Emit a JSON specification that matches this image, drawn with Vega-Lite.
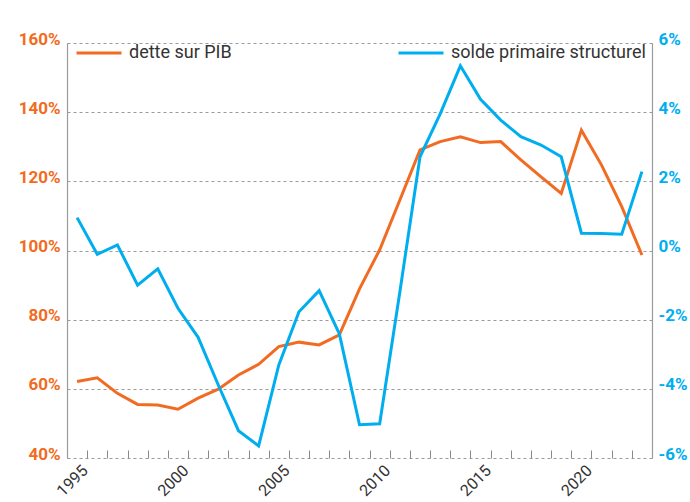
{
  "$schema": "https://vega.github.io/schema/vega-lite/v6.json",
  "width": 585,
  "height": 415,
  "autosize": {"type": "none"},
  "padding": {"left": 67, "top": 43, "right": 38, "bottom": 44},
  "background": "#ffffff",
  "config": {
    "font": "Roboto",
    "view": {"stroke": null},
    "axis": {"grid": false, "domainColor": "#9a9a9a", "domainWidth": 1.2, "tickColor": "#8a8a8a"},
    "legend": {"symbolType": "stroke", "symbolSize": 2025, "symbolStrokeWidth": 3, "labelFont": "Roboto", "labelFontSize": 18, "labelColor": "#333333", "labelOffset": 6, "padding": 0, "title": null, "labelLimit": 400}
  },
  "data": {"values": [
    {"year": 1995, "dette": 62.1, "solde": 0.95},
    {"year": 1996, "dette": 63.2, "solde": -0.11},
    {"year": 1997, "dette": 58.7, "solde": 0.16},
    {"year": 1998, "dette": 55.5, "solde": -1.0},
    {"year": 1999, "dette": 55.3, "solde": -0.53},
    {"year": 2000, "dette": 54.1, "solde": -1.67},
    {"year": 2001, "dette": 57.3, "solde": -2.51},
    {"year": 2002, "dette": 59.9, "solde": -3.89},
    {"year": 2003, "dette": 64.0, "solde": -5.21},
    {"year": 2004, "dette": 67.1, "solde": -5.65},
    {"year": 2005, "dette": 72.2, "solde": -3.31},
    {"year": 2006, "dette": 73.5, "solde": -1.77},
    {"year": 2007, "dette": 72.7, "solde": -1.16},
    {"year": 2008, "dette": 75.6, "solde": -2.41},
    {"year": 2009, "dette": 88.9, "solde": -5.04},
    {"year": 2010, "dette": 100.2, "solde": -5.01},
    {"year": 2011, "dette": 114.6, "solde": -1.2},
    {"year": 2012, "dette": 129.1, "solde": 2.71},
    {"year": 2013, "dette": 131.5, "solde": 3.95},
    {"year": 2014, "dette": 132.9, "solde": 5.34},
    {"year": 2015, "dette": 131.2, "solde": 4.37},
    {"year": 2016, "dette": 131.5, "solde": 3.77},
    {"year": 2017, "dette": 126.2, "solde": 3.29},
    {"year": 2018, "dette": 121.3, "solde": 3.05},
    {"year": 2019, "dette": 116.5, "solde": 2.71},
    {"year": 2020, "dette": 134.8, "solde": 0.5},
    {"year": 2021, "dette": 124.7, "solde": 0.49},
    {"year": 2022, "dette": 112.7, "solde": 0.47},
    {"year": 2023, "dette": 98.7, "solde": 2.28}
  ]},
  "layer": [
    {
      "mark": {"type": "line", "strokeWidth": 3, "strokeJoin": "miter"},
      "encoding": {
        "x": {
          "field": "year", "type": "quantitative",
          "scale": {"domain": [1994.5, 2023.5], "nice": false, "zero": false},
          "axis": {
            "title": null,
            "orient": "bottom",
            "domain": false,
            "ticks": false,
            "values": [1995, 2000, 2005, 2010, 2015, 2020],
            "format": "d",
            "labelPadding": 4,
            "labelOffset": 2,
            "labelAngle": -45,
            "labelAlign": "right",
            "labelBaseline": "top",
            "labelFontSize": 16,
            "labelColor": "#333333",
            "labelFlush": false,
            "labelOverlap": false,
            "labelBound": false
          }
        },
        "y": {
          "field": "dette", "type": "quantitative",
          "scale": {"domain": [40, 160], "nice": false, "zero": false},
          "axis": {
            "title": null, "orient": "left",
            "values": [40, 60, 80, 100, 120, 140, 160],
            "labelExpr": "datum.value + '%'",
            "ticks": false,
            "grid": true, "gridColor": "#9a9a9a", "gridDash": [3, 3], "gridWidth": 1,
            "labelColor": "#F26B22", "labelFontWeight": "bold", "labelFontSize": 17,
            "labelPadding": 7, "labelBaseline": "alphabetic", "labelOffset": 1, "labelFlush": false
          }
        },
        "color": {
          "datum": "dette sur PIB",
          "scale": {"range": ["#F26B22"]},
          "legend": {"orient": "none", "legendX": 8, "legendY": -14}
        }
      }
    },
    {
      "mark": {"type": "line", "strokeWidth": 3, "strokeJoin": "miter"},
      "encoding": {
        "x": {
          "field": "year", "type": "quantitative",
          "axis": {
            "title": null,
            "orient": "top",
            "offset": -415,
            "domain": false,
            "labels": false,
            "ticks": true,
            "tickSize": 8,
            "tickWidth": 1,
            "values": [1995.5,1996.5,1997.5,1998.5,1999.5,2000.5,2001.5,2002.5,2003.5,2004.5,2005.5,2006.5,2007.5,2008.5,2009.5,2010.5,2011.5,2012.5,2013.5,2014.5,2015.5,2016.5,2017.5,2018.5,2019.5,2020.5,2021.5,2022.5]
          }
        },
        "y": {
          "field": "solde", "type": "quantitative",
          "scale": {"domain": [-6, 6], "nice": false, "zero": false},
          "axis": {
            "title": null, "orient": "right",
            "values": [-6, -4, -2, 0, 2, 4, 6],
            "labelExpr": "datum.value + '%'",
            "ticks": false,
            "labelColor": "#00AEEF", "labelFontWeight": "bold", "labelFontSize": 17,
            "labelPadding": 6, "labelBaseline": "alphabetic", "labelOffset": 1, "labelFlush": false
          }
        },
        "color": {
          "datum": "solde primaire structurel",
          "scale": {"range": ["#00AEEF"]},
          "legend": {"orient": "none", "legendX": 330, "legendY": -14}
        }
      }
    }
  ],
  "resolve": {"scale": {"y": "independent", "color": "independent"}, "axis": {"x": "independent"}}
}
